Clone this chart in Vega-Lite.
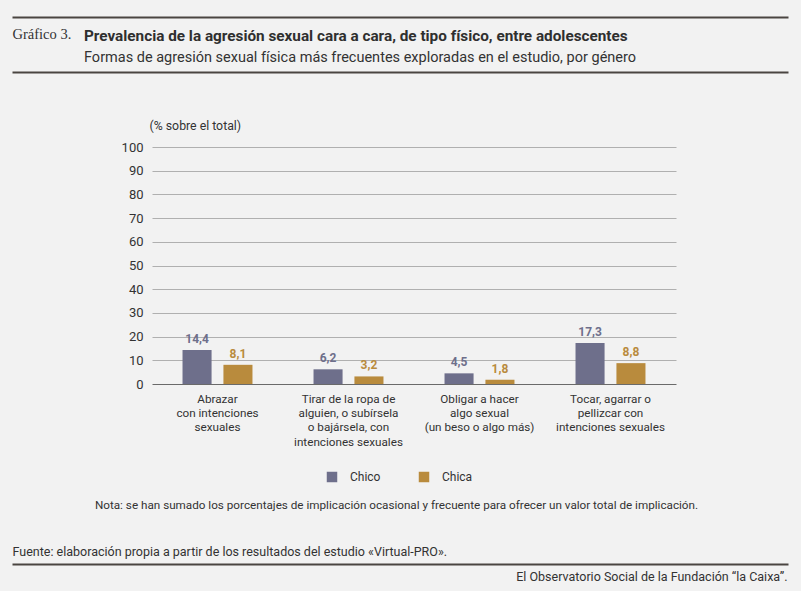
{
  "$schema": "https://vega.github.io/schema/vega-lite/v6.json",
  "width": 524,
  "height": 591,
  "autosize": {"type": "none"},
  "padding": {"left": 152, "right": 125, "top": 0, "bottom": 0},
  "background": "#f2f2f2",
  "title": {
    "text": "Prevalencia de la agresión sexual cara a cara, de tipo físico, entre adolescentes",
    "subtitle": "Formas de agresión sexual física más frecuentes exploradas en el estudio, por género",
    "anchor": "start",
    "frame": "group",
    "dx": -68,
    "offset": -64,
    "font": "Roboto",
    "fontSize": 15.3,
    "fontWeight": "bold",
    "color": "#2f2f2f",
    "subtitleFont": "Roboto",
    "subtitleFontSize": 14.5,
    "subtitleColor": "#333333",
    "subtitlePadding": 6
  },
  "data": {
    "values": [
      {"forma": "Abrazar|con intenciones|sexuales", "genero": "Chico", "pct": 14.4},
      {"forma": "Abrazar|con intenciones|sexuales", "genero": "Chica", "pct": 8.1},
      {"forma": "Tirar de la ropa de|alguien, o subírsela|o bajársela, con|intenciones sexuales", "genero": "Chico", "pct": 6.2},
      {"forma": "Tirar de la ropa de|alguien, o subírsela|o bajársela, con|intenciones sexuales", "genero": "Chica", "pct": 3.2},
      {"forma": "Obligar a hacer|algo sexual|(un beso o algo más)", "genero": "Chico", "pct": 4.5},
      {"forma": "Obligar a hacer|algo sexual|(un beso o algo más)", "genero": "Chica", "pct": 1.8},
      {"forma": "Tocar, agarrar o|pellizcar con|intenciones sexuales", "genero": "Chico", "pct": 17.3},
      {"forma": "Tocar, agarrar o|pellizcar con|intenciones sexuales", "genero": "Chica", "pct": 8.8}
    ]
  },
  "resolve": {"axis": {"x": "independent", "y": "independent"}},
  "layer": [
    {
      "mark": {"type": "bar"},
      "encoding": {
        "x": {
          "field": "forma",
          "type": "nominal",
          "sort": null,
          "scale": {"paddingInner": 0.466, "paddingOuter": 0.233},
          "axis": {
            "orient": "bottom",
            "offset": -207,
            "domain": false,
            "ticks": false,
            "labelAngle": 0,
            "labelExpr": "split(datum.label, '|')",
            "labelFontSize": 11.7,
            "labelColor": "#333333",
            "labelPadding": 9,
            "labelBaseline": "top",
            "labelLineHeight": 14.4,
            "title": "Nota: se han sumado los porcentajes de implicación ocasional y frecuente para ofrecer un valor total de implicación.",
            "titleX": 244,
            "titleY": 124,
            "titleAlign": "center",
            "titleBaseline": "alphabetic",
            "titleFontSize": 11.7,
            "titleFontWeight": "normal",
            "titleColor": "#333333"
          }
        },
        "xOffset": {
          "field": "genero",
          "type": "nominal",
          "sort": ["Chico", "Chica"],
          "scale": {"paddingInner": 0.29, "paddingOuter": 0}
        },
        "y": {
          "field": "pct",
          "type": "quantitative",
          "scale": {"domain": [-87.34, 162.03], "nice": false, "zero": false},
          "axis": {
            "orient": "left",
            "values": [0, 10, 20, 30, 40, 50, 60, 70, 80, 90, 100],
            "domain": false,
            "ticks": false,
            "grid": true,
            "gridColor": {"condition": {"test": "datum.value === 0", "value": "#6a6a6a"}, "value": "#b0b0b0"},
            "labelFontSize": 13,
            "labelColor": "#333333",
            "labelPadding": 9,
            "labelFlush": false,
            "title": "(% sobre el total)",
            "titleAngle": 0,
            "titleX": -3,
            "titleY": 129,
            "titleAlign": "left",
            "titleBaseline": "alphabetic",
            "titleFontSize": 12.3,
            "titleFontWeight": "normal",
            "titleColor": "#333333"
          }
        },
        "color": {
          "field": "genero",
          "type": "nominal",
          "sort": ["Chico", "Chica"],
          "scale": {"domain": ["Chico", "Chica"], "range": ["#6e6f8b", "#b98b3d"]},
          "legend": {
            "orient": "none",
            "legendX": 174,
            "legendY": 471,
            "direction": "horizontal",
            "title": null,
            "symbolType": "square",
            "symbolSize": 110,
            "symbolStrokeWidth": 0,
            "labelFontSize": 12,
            "labelColor": "#333333",
            "labelOffset": 12,
            "columnPadding": 37
          }
        }
      }
    },
    {
      "mark": {"type": "text", "dy": -7, "baseline": "alphabetic", "fontSize": 12, "fontWeight": "bold"},
      "encoding": {
        "x": {
          "field": "forma",
          "type": "nominal",
          "sort": null,
          "scale": {"paddingInner": 0.466, "paddingOuter": 0.233},
          "axis": {
            "orient": "top",
            "domain": false,
            "ticks": false,
            "labels": false,
            "grid": false,
            "title": "Gráfico 3.",
            "titleX": -140,
            "titleY": 38,
            "titleAlign": "left",
            "titleBaseline": "alphabetic",
            "titleFont": "Liberation Serif",
            "titleFontSize": 14.5,
            "titleFontWeight": "normal",
            "titleColor": "#333333"
          }
        },
        "xOffset": {
          "field": "genero",
          "type": "nominal",
          "sort": ["Chico", "Chica"],
          "scale": {"paddingInner": 0.29, "paddingOuter": 0}
        },
        "y": {
          "field": "pct",
          "type": "quantitative",
          "scale": {"domain": [-87.34, 162.03], "nice": false, "zero": false},
          "axis": {
            "orient": "right",
            "offset": -664,
            "values": [154.98, 131.65, -75.95],
            "domain": false,
            "grid": false,
            "ticks": true,
            "tickSize": 776,
            "tickWidth": 2,
            "tickColor": "#4a4541",
            "labelExpr": "datum.value < 0 ? 'El Observatorio Social de la Fundación “la Caixa”.' : ''",
            "labelAlign": "right",
            "labelBaseline": "alphabetic",
            "labelPadding": -1,
            "labelOffset": 16,
            "labelFlush": false,
            "labelOverlap": false,
            "labelBound": false,
            "labelLimit": 0,
            "labelFontSize": 12.5,
            "labelColor": "#333333",
            "title": "Fuente: elaboración propia a partir de los resultados del estudio «Virtual-PRO».",
            "titleAngle": 0,
            "titleX": 0,
            "titleY": 555,
            "titleAlign": "left",
            "titleBaseline": "alphabetic",
            "titleFontSize": 12.5,
            "titleFontWeight": "normal",
            "titleColor": "#333333"
          }
        },
        "text": {"field": "pct", "type": "quantitative", "format": ".1f"},
        "color": {
          "field": "genero",
          "type": "nominal",
          "sort": ["Chico", "Chica"],
          "legend": null
        }
      }
    }
  ],
  "config": {
    "font": "Roboto",
    "view": {"stroke": null},
    "locale": {"number": {"decimal": ",", "thousands": ".", "grouping": [3], "currency": ["", " €"]}}
  }
}
